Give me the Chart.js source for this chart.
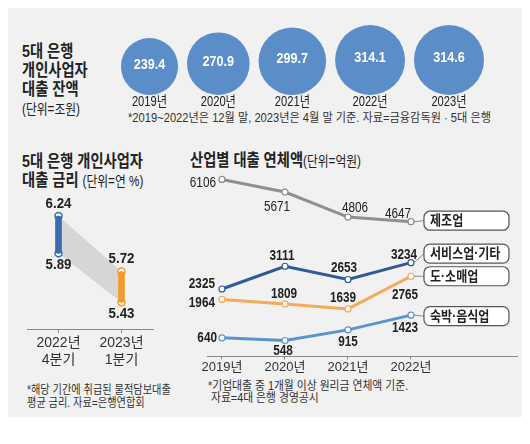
<!DOCTYPE html>
<html lang="ko">
<head>
<meta charset="utf-8">
<script src="https://cdn.jsdelivr.net/npm/chart.js@4.4.1/dist/chart.umd.min.js"></script>
<style>
  html, body { margin: 0; padding: 0; background: #fff; }
  body { width: 530px; height: 444px; position: relative; overflow: hidden;
         font-family: "Liberation Sans", "Noto Sans CJK KR", sans-serif; color: #222; }
  #panel { position: absolute; left: 8px; top: 8px; width: 514px; height: 409px; background: #f1f1f1; }
  .t { position: absolute; white-space: nowrap; transform: scaleX(.84); transform-origin: 0 0; }
  .h { font-size: 17px; font-weight: bold; line-height: 19px; }
  .u { font-size: 14px; font-weight: normal; }
  .note { font-size: 12px; line-height: 13px; color: #333; }
  canvas { position: absolute; }
</style>
</head>
<body>
<div id="panel"></div>

<div class="t h" style="left:22px; top:42px;">5대 은행<br>개인사업자<br>대출 잔액<br><span class="u">(단위=조원)</span></div>
<div class="t note" style="left:128px; top:112px; transform:scaleX(.93);">*2019~2022년은 12월 말, 2023년은 4월 말 기준. 자료=금융감독원 · 5대 은행</div>

<div class="t h" style="left:22px; top:152px;">5대 은행 개인사업자<br>대출 금리 <span class="u">(단위=연 %)</span></div>
<div class="t note" style="left:27px; top:384px; transform:scaleX(.85);">*해당 기간에 취급된 물적담보대출<br>평균 금리. 자료=은행연합회</div>

<div class="t h" style="left:190px; top:151px;">산업별 대출 연체액<span class="u">(단위=억원)</span></div>
<div class="t note" style="left:208px; top:381px; line-height:11.5px; transform:scaleX(.9);">*기업대출 중 1개월 이상 원리금 연체액 기준.<br>&nbsp;자료=4대 은행 경영공시</div>

<canvas id="balance" width="400" height="97" style="left:100px; top:15px;"></canvas>
<canvas id="rate" width="160" height="185" style="left:10px; top:185px;"></canvas>
<canvas id="overdue" width="342" height="225" style="left:180px; top:150px;"></canvas>

<script>
// 대출 잔액 (조원)
const balanceYears = ['2019년', '2020년', '2021년', '2022년', '2023년'];
const balanceValues = [239.4, 270.9, 299.7, 314.1, 314.6];

// 대출 금리 (연 %)
const rateQuarters = [['2022년', '4분기'], ['2023년', '1분기']];
const rateHigh = [6.24, 5.72];
const rateLow = [5.89, 5.43];

// 산업별 연체액 (억원)
const overdueYears = [2019, 2020, 2021, 2022];
const manufacturing = [6106, 5671, 4806, 4647];
const services = [2325, 3111, 2653, 3234];
const retail = [1964, 1809, 1639, 2765];
const lodging = [640, 548, 915, 1423];
const industryNames = ['제조업', '서비스업·기타', '도·소매업', '숙박·음식업'];

const FONT = '"Liberation Sans", "Noto Sans CJK KR", sans-serif';
Chart.defaults.font.family = '"Liberation Sans Narrow", "Liberation Sans", "Noto Sans CJK KR", sans-serif';
Chart.defaults.color = '#333';
Chart.defaults.animation = false;
Chart.defaults.plugins.legend.display = false;
Chart.defaults.plugins.tooltip.enabled = false;

// draw horizontally squeezed text (the print uses a condensed face)
function squeezeText(ctx, text, x, y, o) {
  const { size = 14, weight = 'normal', color = '#222', align = 'center', sx = 0.84 } = o || {};
  ctx.save();
  ctx.font = `${weight} ${size}px ${FONT}`;
  ctx.fillStyle = color;
  ctx.textBaseline = 'middle';
  ctx.textAlign = align;
  ctx.translate(x, y);
  ctx.scale(sx, 1);
  ctx.fillText(text, 0, 0);
  ctx.restore();
}

// ---- bubbles: size by value, packed left to right on a common baseline
const maxBalance = Math.max(...balanceValues);
const balanceRadii = balanceValues.map(v => 35 * Math.pow(v / maxBalance, 0.75));
const balanceX = [];
balanceRadii.forEach((r, i) => {
  balanceX.push(i === 0 ? 0 : balanceX[i - 1] + balanceRadii[i - 1] + 9 + r);
});

const bubbleLabels = {
  id: 'bubbleLabels',
  afterDatasetsDraw(chart) {
    const ctx = chart.ctx;
    const base = chart.scales.y.getPixelForValue(0);
    chart.getDatasetMeta(0).data.forEach((el, i) => {
      squeezeText(ctx, balanceValues[i].toFixed(1), el.x, el.y - 2, { size: 15, weight: 'bold', color: '#fff' });
      squeezeText(ctx, balanceYears[i], el.x, base + 7, { size: 14, sx: 0.8 });
    });
  }
};

new Chart(document.getElementById('balance'), {
  type: 'bubble',
  data: {
    datasets: [{
      data: balanceValues.map((v, i) => ({ x: balanceX[i], y: balanceRadii[i], r: balanceRadii[i] })),
      backgroundColor: '#5b8dc9',
      borderWidth: 0,
      clip: false
    }]
  },
  options: {
    responsive: false,
    events: [],
    layout: { padding: 0, autoPadding: false },
    scales: {
      x: { type: 'linear', display: false, min: -49.5, max: 350.5 },
      y: { type: 'linear', display: false, min: -17, max: 80 }
    }
  },
  plugins: [bubbleLabels]
});

// ---- rate dumbbell
const rateColors = ['#3b6cb2', '#f39a2b'];

const rateBand = {
  id: 'rateBand',
  beforeDatasetsDraw(chart) {
    const { ctx, scales: { x, y } } = chart;
    const x0 = x.getPixelForValue(0), x1 = x.getPixelForValue(1);
    ctx.save();
    ctx.fillStyle = '#d6d6d6';
    ctx.beginPath();
    ctx.moveTo(x0, y.getPixelForValue(rateHigh[0]));
    ctx.lineTo(x1, y.getPixelForValue(rateHigh[1]));
    ctx.lineTo(x1, y.getPixelForValue(rateLow[1]));
    ctx.lineTo(x0, y.getPixelForValue(rateLow[0]));
    ctx.closePath();
    ctx.fill();
    ctx.restore();
  },
  afterDatasetsDraw(chart) {
    const ctx = chart.ctx;
    chart.getDatasetMeta(1).data.forEach((el, i) => {
      squeezeText(ctx, rateHigh[i].toFixed(2), el.x, el.y - 12, { size: 14, weight: 'bold', sx: 0.95 });
    });
    chart.getDatasetMeta(2).data.forEach((el, i) => {
      squeezeText(ctx, rateLow[i].toFixed(2), el.x, el.y + 12, { size: 14, weight: 'bold', sx: 0.95 });
    });
  }
};

const rateEnds = {
  type: 'line',
  showLine: false,
  pointRadius: 3.5,
  pointBorderWidth: 1.5,
  pointBackgroundColor: '#fff',
  pointBorderColor: rateColors
};

new Chart(document.getElementById('rate'), {
  type: 'bar',
  data: {
    labels: rateQuarters,
    datasets: [
      {
        data: rateLow.map((lo, i) => [lo, rateHigh[i]]),
        backgroundColor: rateColors,
        barThickness: 6,
        borderRadius: 3,
        borderSkipped: false
      },
      { ...rateEnds, data: rateHigh },
      { ...rateEnds, data: rateLow }
    ]
  },
  options: {
    responsive: false,
    events: [],
    layout: { padding: { left: 17, right: 17, top: 14, bottom: 0 }, autoPadding: false },
    scales: {
      x: {
        grid: { display: true, drawOnChartArea: false, offset: false, tickLength: 4, color: '#8a8a8a' },
        border: { display: true, color: '#8a8a8a' },
        ticks: { padding: 1, color: '#333', font: { size: 14, lineHeight: 1.25 } }
      },
      y: { display: false, min: 5.18, max: 6.4 }
    }
  },
  plugins: [rateBand]
});

// ---- overdue lines
const industryColors = ['#8f8f8f', '#2e5b98', '#f5aa58', '#5b93d0'];
const industrySeries = [manufacturing, services, retail, lodging];

// label offset from point: [dx, dy, align]
const labelOffsets = [
  [[-6, 4, 'right'], [-8, 15, 'center'], [7, -9, 'center'], [-13, -8, 'center']],
  [[-7, -5, 'right'], [-3, -10, 'center'], [-4, -11, 'center'], [-7, -8, 'center']],
  [[-7, 4, 'right'], [-1, -10, 'center'], [-5, -11, 'center'], [-6, 19, 'center']],
  [[-5, 0, 'right'], [-2, 11, 'center'], [0, 12, 'center'], [-6, 13, 'center']]
];
// name tag vertical shift from last point
const tagShift = [-1, -9, 0, 1];

const overdueLabels = {
  id: 'overdueLabels',
  afterDatasetsDraw(chart) {
    const ctx = chart.ctx;
    industrySeries.forEach((vals, s) => {
      const pts = chart.getDatasetMeta(s).data;
      pts.forEach((el, i) => {
        const [dx, dy, align] = labelOffsets[s][i];
        squeezeText(ctx, String(vals[i]), el.x + dx, el.y + dy,
          { size: 14, weight: s === 0 ? 'normal' : 'bold', align, sx: 0.84 });
      });
      // name tag
      const last = pts[pts.length - 1];
      const bx = last.x + 13, by = last.y + tagShift[s], bw = 85, bh = 19;
      ctx.save();
      ctx.strokeStyle = '#8a8a8a';
      ctx.lineWidth = 1;
      ctx.beginPath();
      ctx.moveTo(last.x + 3, last.y);
      ctx.lineTo(bx, by);
      ctx.stroke();
      ctx.fillStyle = '#fff';
      ctx.strokeStyle = '#555';
      ctx.lineWidth = 1.2;
      ctx.beginPath();
      ctx.roundRect(bx, by - bh / 2, bw, bh, 6);
      ctx.fill();
      ctx.stroke();
      ctx.restore();
      squeezeText(ctx, industryNames[s], bx + 6, by + 0.5, { size: 14, weight: 'bold', align: 'left', sx: 0.86 });
    });
  }
};

new Chart(document.getElementById('overdue'), {
  type: 'line',
  data: {
    datasets: industrySeries.map((vals, s) => ({
      label: industryNames[s],
      data: vals.map((v, i) => ({ x: overdueYears[i], y: v })),
      borderColor: industryColors[s],
      borderWidth: 3,
      pointRadius: 3,
      pointBorderWidth: 1.2,
      pointBackgroundColor: '#fff',
      pointBorderColor: industryColors[s],
      tension: 0,
      clip: false
    }))
  },
  options: {
    responsive: false,
    events: [],
    layout: { padding: { left: 27, right: 5, top: 18, bottom: 0 }, autoPadding: false },
    scales: {
      x: {
        type: 'linear',
        min: 2019 - 0.238,
        max: 2022 + 1.683,
        afterBuildTicks: scale => { scale.ticks = overdueYears.map(v => ({ value: v })); },
        grid: { display: true, drawOnChartArea: false, tickLength: 3, color: '#8a8a8a' },
        border: { display: true, color: '#8a8a8a' },
        ticks: { padding: 0, color: '#333', font: { size: 13, lineHeight: 1.2 }, callback: v => v + '년' }
      },
      y: { display: false, min: 0, max: 6500 }
    }
  },
  plugins: [overdueLabels]
});
</script>
</body>
</html>
